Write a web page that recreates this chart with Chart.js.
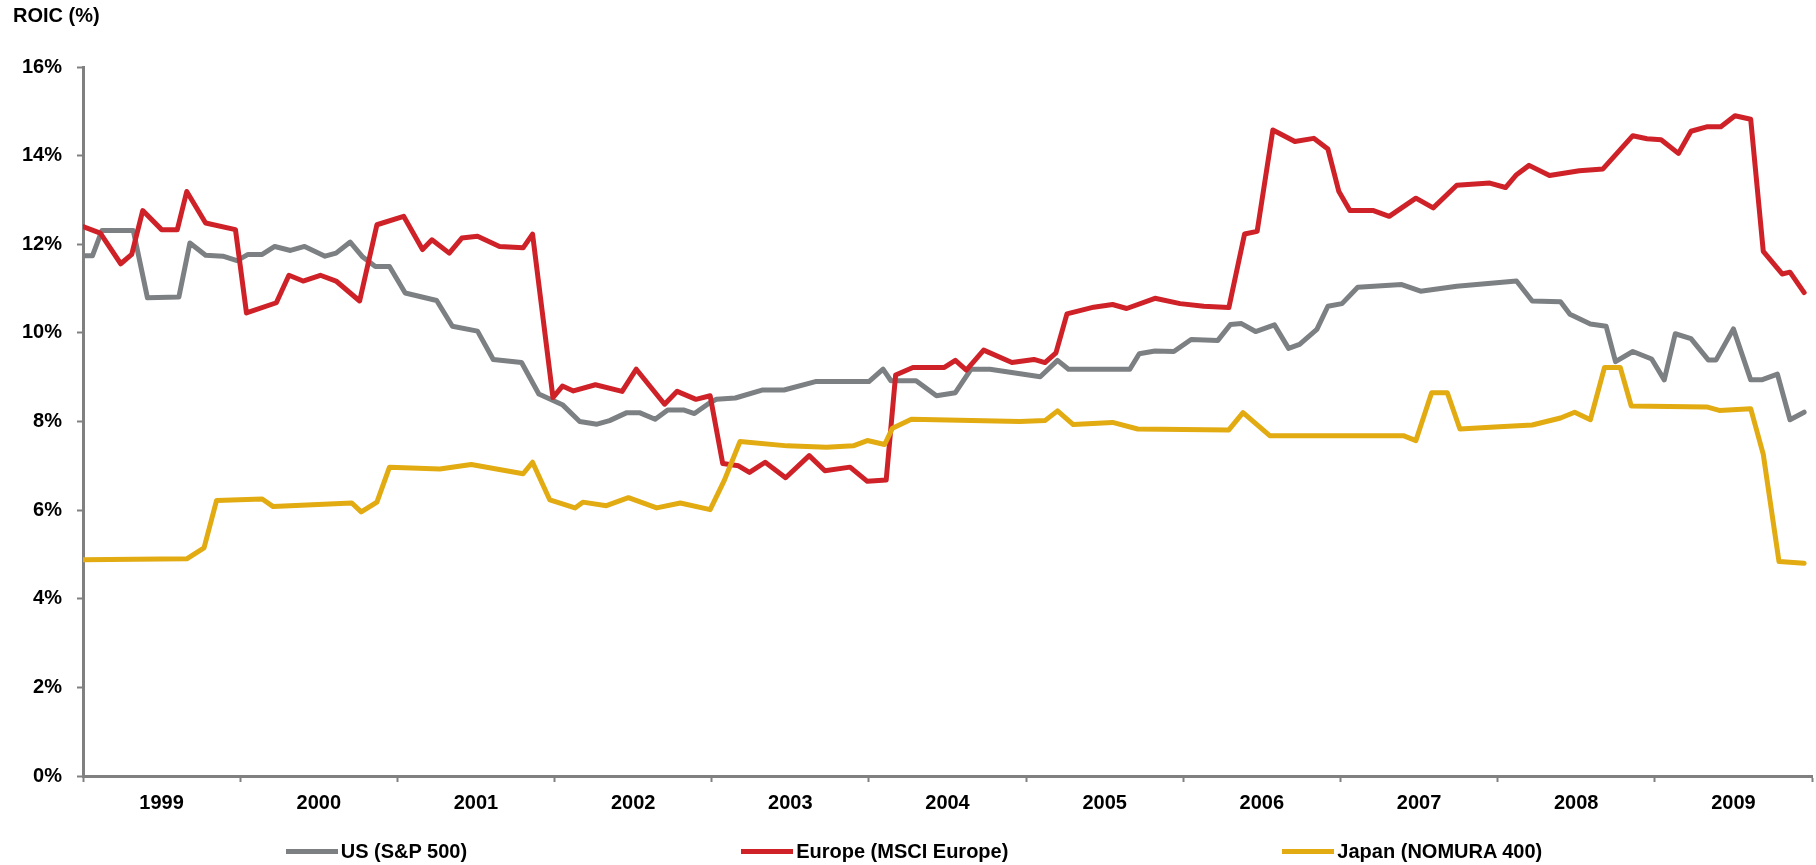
<!DOCTYPE html>
<html>
<head>
<meta charset="utf-8">
<title>ROIC (%)</title>
<script src="https://cdn.jsdelivr.net/npm/chart.js@4.4.1/dist/chart.umd.min.js"></script>
<style>
    html, body { margin: 0; padding: 0; background: #fff; }
    #wrap { position: relative; width: 1816px; height: 865px; }
    #legend {
        position: absolute; left: 0; right: 0; top: 839px; padding-left: 12px;
        display: flex; justify-content: center; gap: 274px;
        font: bold 20px "Liberation Sans", Arial, sans-serif; color: #000;
    }
    .legend-item { display: flex; align-items: center; white-space: nowrap; line-height: 24px; }
    .legend-swatch { width: 52px; height: 5px; margin-right: 3px; }
</style>
</head>
<body>
<div id="wrap">
    <canvas id="roicChart" width="1816" height="865"></canvas>
    <div id="legend"></div>
</div>
<script>
// Year labels on the x axis (each label sits in the middle of its year)
const yearLabels = [1999, 2000, 2001, 2002, 2003, 2004, 2005, 2006, 2007, 2008, 2009];
const yTicks = [0, 2, 4, 6, 8, 10, 12, 14, 16];

// US (S&P 500): observation date (fractional year) and ROIC in %
const usYears = [1999.00, 1999.06, 1999.12, 1999.32, 1999.41, 1999.61, 1999.68, 1999.78, 1999.89, 1999.98,
    2000.05, 2000.14, 2000.22, 2000.32, 2000.41, 2000.54, 2000.61, 2000.70, 2000.78, 2000.86, 2000.95,
    2001.05, 2001.25, 2001.35, 2001.51, 2001.61, 2001.79, 2001.90,
    2002.05, 2002.16, 2002.27, 2002.35, 2002.46, 2002.54, 2002.64, 2002.72, 2002.82, 2002.89, 2002.99,
    2003.03, 2003.15, 2003.32, 2003.46, 2003.66, 2004.00, 2004.09, 2004.14, 2004.30, 2004.43, 2004.55, 2004.65, 2004.77,
    2005.09, 2005.20, 2005.27, 2005.66, 2005.72, 2005.82, 2005.94,
    2006.05, 2006.22, 2006.30, 2006.37, 2006.46, 2006.58, 2006.67, 2006.74, 2006.85, 2006.92,
    2007.01, 2007.11, 2007.39, 2007.51, 2007.74,
    2008.12, 2008.22, 2008.40, 2008.46, 2008.59, 2008.69, 2008.75, 2008.86, 2008.98,
    2009.06, 2009.13, 2009.23, 2009.34, 2009.39, 2009.50, 2009.61, 2009.68, 2009.78, 2009.86, 2009.95];
const usRoic = [11.74, 11.74, 12.31, 12.31, 10.79, 10.81, 12.03, 11.75, 11.73, 11.63,
    11.77, 11.77, 11.95, 11.86, 11.95, 11.73, 11.80, 12.05, 11.71, 11.50, 11.50,
    10.90, 10.73, 10.15, 10.04, 9.40, 9.33, 8.62,
    8.38, 8.00, 7.94, 8.02, 8.20, 8.20, 8.05, 8.26, 8.26, 8.18, 8.43,
    8.50, 8.53, 8.71, 8.71, 8.90, 8.90, 9.18, 8.92, 8.92, 8.58, 8.65, 9.18, 9.18,
    9.01, 9.38, 9.18, 9.18, 9.53, 9.59, 9.58,
    9.85, 9.83, 10.19, 10.21, 10.03, 10.18, 9.65, 9.74, 10.08, 10.60,
    10.66, 11.03, 11.09, 10.94, 11.05,
    11.17, 10.72, 10.70, 10.42, 10.20, 10.15, 9.35, 9.58, 9.41,
    8.94, 9.98, 9.87, 9.39, 9.39, 10.09, 8.94, 8.94, 9.07, 8.04, 8.21];

// Europe (MSCI Europe)
const euYears = [1999.00, 1999.11, 1999.24, 1999.31, 1999.38, 1999.50, 1999.60, 1999.66, 1999.78, 1999.97,
    2000.04, 2000.23, 2000.31, 2000.40, 2000.51, 2000.61, 2000.76, 2000.87,
    2001.04, 2001.16, 2001.22, 2001.33, 2001.41, 2001.51, 2001.65, 2001.80, 2001.86, 2001.99,
    2002.05, 2002.12, 2002.26, 2002.43, 2002.52, 2002.70, 2002.78, 2002.90, 2002.99,
    2003.07, 2003.17, 2003.24, 2003.34, 2003.47, 2003.62, 2003.72, 2003.88, 2003.99,
    2004.11, 2004.17, 2004.28, 2004.48, 2004.55, 2004.62, 2004.73, 2004.91,
    2005.05, 2005.12, 2005.19, 2005.26, 2005.43, 2005.55, 2005.64, 2005.82, 2005.98,
    2006.13, 2006.29, 2006.39, 2006.47, 2006.57, 2006.71, 2006.83, 2006.92, 2006.99,
    2007.06, 2007.21, 2007.31, 2007.48, 2007.59, 2007.74, 2007.95,
    2008.05, 2008.12, 2008.20, 2008.33, 2008.52, 2008.67, 2008.86, 2008.95,
    2009.04, 2009.15, 2009.23, 2009.33, 2009.42, 2009.51, 2009.61, 2009.69, 2009.81, 2009.86, 2009.95];
const euRoic = [12.40, 12.25, 11.56, 11.77, 12.76, 12.33, 12.33, 13.19, 12.48, 12.33,
    10.45, 10.68, 11.30, 11.17, 11.30, 11.17, 10.72, 12.44,
    12.63, 11.88, 12.10, 11.80, 12.14, 12.18, 11.95, 11.92, 12.23, 8.54,
    8.80, 8.69, 8.83, 8.68, 9.18, 8.39, 8.68, 8.50, 8.58,
    7.05, 7.00, 6.85, 7.08, 6.73, 7.23, 6.89, 6.97, 6.65,
    6.68, 9.05, 9.22, 9.22, 9.38, 9.16, 9.61, 9.33,
    9.40, 9.33, 9.55, 10.43, 10.58, 10.64, 10.55, 10.78, 10.66,
    10.60, 10.57, 12.23, 12.29, 14.58, 14.32, 14.39, 14.15, 13.19,
    12.76, 12.76, 12.63, 13.04, 12.82, 13.33, 13.38,
    13.28, 13.57, 13.78, 13.55, 13.66, 13.70, 14.45, 14.38,
    14.36, 14.05, 14.55, 14.65, 14.65, 14.90, 14.82, 11.84, 11.33, 11.37, 10.91];

// Japan (NOMURA 400)
const jpYears = [1999.00, 1999.66, 1999.77, 1999.85, 2000.14, 2000.21, 2000.71, 2000.77, 2000.87, 2000.95,
    2001.27, 2001.47, 2001.80, 2001.86, 2001.97, 2002.13, 2002.18, 2002.33, 2002.47, 2002.65, 2002.80, 2002.99,
    2003.08, 2003.18, 2003.48, 2003.73, 2003.90, 2003.99, 2004.10, 2004.15, 2004.27, 2004.96,
    2005.12, 2005.20, 2005.30, 2005.55, 2005.71, 2006.29, 2006.38, 2006.55,
    2007.40, 2007.48, 2007.58, 2007.68, 2007.76, 2008.01, 2008.22, 2008.40, 2008.49, 2008.59, 2008.68, 2008.78, 2008.85,
    2009.33, 2009.41, 2009.61, 2009.69, 2009.79, 2009.95];
const jpRoic = [4.88, 4.90, 5.15, 6.22, 6.25, 6.08, 6.16, 5.96, 6.18, 6.97,
    6.93, 7.03, 6.82, 7.08, 6.23, 6.05, 6.18, 6.10, 6.28, 6.05, 6.16, 6.01,
    6.67, 7.55, 7.45, 7.42, 7.45, 7.57, 7.48, 7.85, 8.05, 8.00,
    8.02, 8.24, 7.93, 7.98, 7.83, 7.81, 8.20, 7.68,
    7.68, 7.57, 8.65, 8.65, 7.83, 7.88, 7.92, 8.08, 8.21, 8.04, 9.22, 9.22, 8.35,
    8.33, 8.25, 8.29, 7.26, 4.84, 4.80];

const GRAY = '#7d8083';
const RED = '#cf2228';
const GOLD = '#e2ab12';
const AXIS = '#808080';
const FONT = { family: '"Liberation Sans", Arial, sans-serif', size: 20, weight: 'bold' };

function toPoints(xs, ys) {
    return xs.map((x, i) => ({ x: x, y: ys[i] }));
}

(function() {
    const ctx = document.getElementById('roicChart');

    const chart = new Chart(ctx, {
        type: 'line',
        data: {
            datasets: [{
                label: 'US (S&P 500)',
                data: toPoints(usYears, usRoic),
                borderColor: GRAY,
                backgroundColor: GRAY,
                order: 3
            }, {
                label: 'Europe (MSCI Europe)',
                data: toPoints(euYears, euRoic),
                borderColor: RED,
                backgroundColor: RED,
                order: 2
            }, {
                label: 'Japan (NOMURA 400)',
                data: toPoints(jpYears, jpRoic),
                borderColor: GOLD,
                backgroundColor: GOLD,
                order: 1
            }]
        },
        options: {
            responsive: false,
            animation: false,
            elements: {
                line: { borderWidth: 5, tension: 0, borderJoinStyle: 'round', borderCapStyle: 'round' },
                point: { radius: 0 }
            },
            layout: { padding: { left: 13, right: 4, top: 0, bottom: 41 } },
            plugins: {
                legend: { display: false },
                tooltip: { enabled: false },
                title: {
                    display: true,
                    text: 'ROIC (%)',
                    align: 'start',
                    color: '#000',
                    font: FONT,
                    padding: { top: 4, bottom: 39 }
                }
            },
            scales: {
                x: {
                    type: 'linear',
                    min: 1999,
                    max: 2010,
                    afterBuildTicks: function(scale) {
                        scale.ticks = yearLabels.map(y => ({ value: y + 0.5 }));
                    },
                    ticks: {
                        callback: v => String(Math.floor(v)),
                        color: '#000',
                        font: FONT,
                        padding: 9,
                        maxRotation: 0,
                        autoSkip: false
                    },
                    // offset grid puts the tick marks on the year boundaries
                    grid: { offset: true, drawOnChartArea: false, tickLength: 6, tickColor: AXIS, tickWidth: 2 },
                    border: { display: true, color: AXIS, width: 3 }
                },
                y: {
                    min: 0,
                    max: 16,
                    afterFit: function(scale) { scale.width = 70; },
                    afterBuildTicks: function(scale) {
                        scale.ticks = yTicks.map(v => ({ value: v }));
                    },
                    ticks: {
                        callback: v => v + '%',
                        color: '#000',
                        font: FONT,
                        padding: 15
                    },
                    grid: { drawOnChartArea: false, tickLength: 6, tickColor: AXIS, tickWidth: 2 },
                    border: { display: true, color: AXIS, width: 3 }
                }
            }
        }
    });

    // HTML legend, spaced out along the bottom
    const legend = document.getElementById('legend');
    chart.data.datasets.forEach(function(ds) {
        const item = document.createElement('div');
        item.className = 'legend-item';
        const swatch = document.createElement('span');
        swatch.className = 'legend-swatch';
        swatch.style.background = ds.borderColor;
        const label = document.createElement('span');
        label.textContent = ds.label;
        item.appendChild(swatch);
        item.appendChild(label);
        legend.appendChild(item);
    });
})();
</script>
</body>
</html>
